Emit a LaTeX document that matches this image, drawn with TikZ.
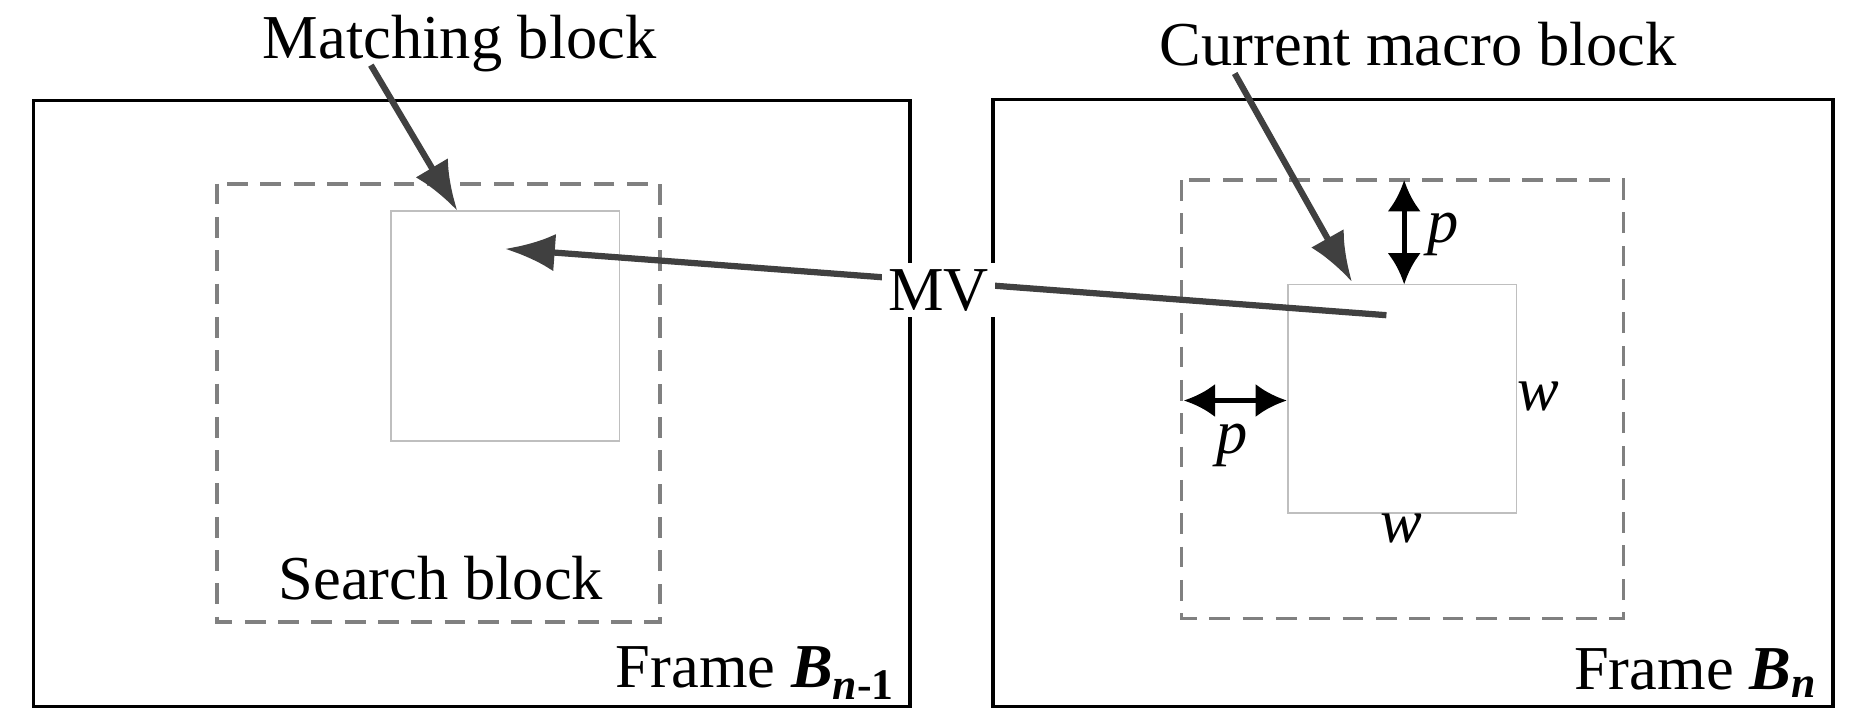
\documentclass[tikz,border=0pt]{standalone}
\usepackage{fontspec}
\setmainfont{Liberation Serif}
\usetikzlibrary{arrows.meta}
\begin{document}
\begin{tikzpicture}[x=0.02cm,y=-0.02cm,
 frame/.style={draw=black,line width=1.6pt},
 dashbox/.style={draw=gray,line width=1.8pt,dash pattern=on 10pt off 6pt},
 blk/.style={draw=gray!50,line width=0.7pt},
 arr/.style={draw=black!75,line width=3pt,-{Latex[length=24pt,width=18pt]}},
 darr/.style={draw=black,line width=2.4pt,{Latex[length=15pt,width=16pt]}-{Latex[length=15pt,width=16pt]}},
 lbl/.style={font=\fontsize{30}{33}\selectfont,inner sep=1pt}]
\useasboundingbox (0,0) rectangle (1568,608);
\draw[frame] (28,85) rectangle (768,596);
\draw[frame] (838,84) rectangle (1547,596);
\draw[dashbox] (183,155) rectangle (557,525);
\draw[dashbox] (997,152) rectangle (1370,522);
\draw[blk] (330,178) rectangle (523,372);
\draw[blk] (1087,240) rectangle (1280,433);
\node[lbl] (mb) at (388,37) {Matching block};
\node[lbl] (cm) at (1197,37) {Current macro block};
\node[lbl] (sb) at (372,488) {Search block};
\node[lbl,anchor=east] (f1) at (757,568) {Frame \textbf{\textit{B}}\textsubscript{\textbf{\textit{n}}\textbf{-1}}};
\node[lbl,anchor=east] (f2) at (1535,568) {Frame \textbf{\textit{B}}\textsubscript{\textbf{\textit{n}}}};
\coordinate (m1) at (313,55);
\coordinate (m2) at (386,178);
\coordinate (c1) at (1042,62);
\coordinate (c2) at (1141,238);
\coordinate (vs) at (1170,266);
\coordinate (ve) at (426,210);
\draw[arr] (m1) -- (m2);
\draw[arr] (c1) -- (c2);
\draw[arr] (vs) -- (ve);
\node[lbl,fill=white,inner sep=3pt] (mv) at (792,245) {MV};
\coordinate (pt) at (1185,152);
\coordinate (pb) at (1185,240);
\draw[darr] (pt) -- (pb);
\node[lbl] (p1) at (1218,198) {\textit{p}};
\coordinate (pl) at (999,338);
\coordinate (pr) at (1086,338);
\draw[darr] (pl) -- (pr);
\node[lbl] (p2) at (1040,376) {\textit{p}};
\node[lbl] (w1) at (1298,335) {\textit{w}};
\node[lbl] (w2) at (1183,446) {\textit{w}};
\end{tikzpicture}
\end{document}
